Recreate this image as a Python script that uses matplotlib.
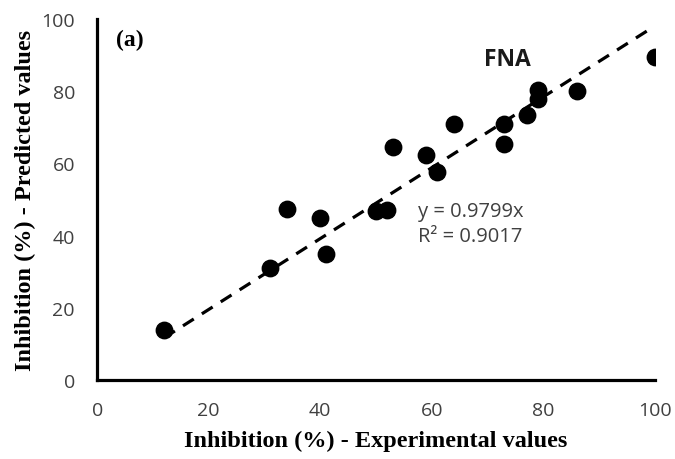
import matplotlib
matplotlib.use("Agg")
import matplotlib.pyplot as plt
import numpy as np

# Data
exp_vals = [12, 31, 34, 40, 41, 50, 52, 53, 59, 61, 64, 73, 73, 77, 79, 79, 86, 100]
pred_vals = [13.9, 31, 47.3, 45, 35, 46.8, 47, 64.4, 62.3, 57.5, 70.8, 70.8, 65.5, 73.5, 80.4, 77.9, 79.9, 89.3]
slope = 0.9799
x_ticks = [0, 20, 40, 60, 80, 100]
y_ticks = [0, 20, 40, 60, 80, 100]

fig = plt.figure(figsize=(6.75, 4.6), dpi=100)
ax = fig.add_axes([0.144, 0.171, 0.826, 0.786])

ax.scatter(exp_vals, pred_vals, s=140, color="black", zorder=3)
xl = np.array([min(exp_vals), max(exp_vals)])
ax.plot(xl, slope * xl, linestyle=(0, (4, 3)), color="black", linewidth=2.3, zorder=2)

ax.set_xlim(0, 100)
ax.set_ylim(0, 100)
ax.set_xticks(x_ticks)
ax.set_yticks(y_ticks)
for s in ["top", "right"]:
    ax.spines[s].set_visible(False)
for s in ["left", "bottom"]:
    ax.spines[s].set_linewidth(2.3)
    ax.spines[s].set_color("black")
ax.tick_params(axis="x", length=0, pad=15, labelsize=14, labelcolor="#404040")
ax.tick_params(axis="y", length=0, pad=16, labelsize=14, labelcolor="#404040")
for lbl in ax.get_xticklabels() + ax.get_yticklabels():
    lbl.set_fontfamily("Open Sans")

ax.set_xlabel("Inhibition (%) - Experimental values", fontfamily="Liberation Serif",
              fontweight="bold", fontsize=17.5, labelpad=8)
ax.set_ylabel("Inhibition (%) - Predicted values", fontfamily="Liberation Serif",
              fontweight="bold", fontsize=17.5, labelpad=4)

ax.text(3.3, 94.2, "(a)", fontfamily="Liberation Serif", fontweight="bold", fontsize=17,
        va="center", ha="left")
ax.text(73.5, 88.8, "FNA", fontfamily="Open Sans", fontweight="bold", fontsize=16.5,
        va="center", ha="center", color="#1a1a1a")
ax.text(57.5, 43.3, "y = 0.9799x\nR² = 0.9017", fontfamily="Open Sans", fontsize=14.5,
        va="center", ha="left", color="#404040", linespacing=1.35)

fig.savefig("out.png", dpi=100)
